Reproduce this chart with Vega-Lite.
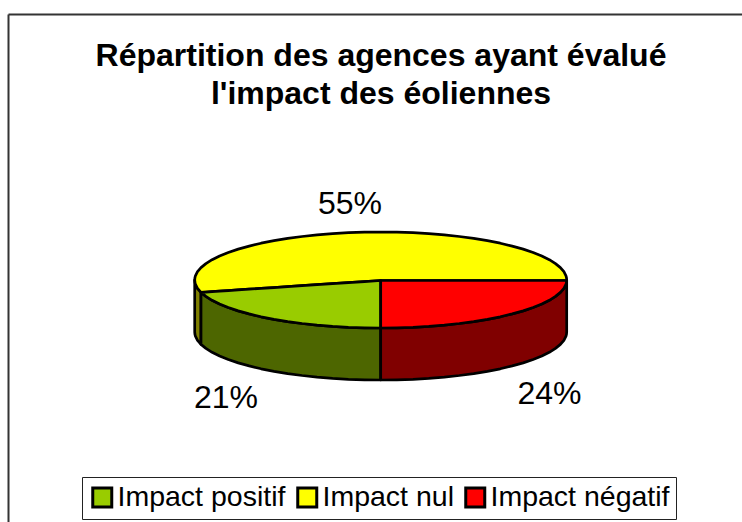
{"$schema":"https://vega.github.io/schema/vega-lite/v6.json","width":742,"height":522,"padding":0,"autosize":{"type":"none"},"background":"white","config":{"view":{"stroke":null},"font":"Liberation Sans"},
"title":{"text":["Répartition des agences ayant évalué","l'impact des éoliennes"],"fontSize":32,"fontWeight":"bold","font":"Liberation Sans","color":"black","anchor":"middle","frame":"group","orient":"top","offset":-136,"dx":10,"baseline":"alphabetic","lineHeight":38},
"datasets":{
"frame":[{"x":8.5,"x2":742,"y":14.5,"y2":14.5},{"x":8.5,"x2":8.5,"y":14.5,"y2":522}],
"side":[
{"s":"nul","x":194.7,"y":280,"y2":332},{"s":"nul","x":194.9,"y":282.1,"y2":334.1},{"s":"nul","x":195.4,"y":284.2,"y2":336.2},{"s":"nul","x":197.5,"y":288.3,"y2":340.3},{"s":"nul","x":201,"y":292.4,"y2":344.4},
{"s":"positif","x":201,"y":292.4,"y2":344.4},{"s":"positif","x":205.9,"y":296.4,"y2":348.4},{"s":"positif","x":212.1,"y":300.3,"y2":352.3},{"s":"positif","x":219.6,"y":304,"y2":356},{"s":"positif","x":228.3,"y":307.5,"y2":359.5},{"s":"positif","x":238.2,"y":310.9,"y2":362.9},{"s":"positif","x":249.2,"y":313.9,"y2":365.9},{"s":"positif","x":261.1,"y":316.8,"y2":368.8},{"s":"positif","x":274,"y":319.3,"y2":371.3},{"s":"positif","x":287.7,"y":321.6,"y2":373.6},{"s":"positif","x":302.1,"y":323.5,"y2":375.5},{"s":"positif","x":317.1,"y":325.1,"y2":377.1},{"s":"positif","x":332.6,"y":326.4,"y2":378.4},{"s":"positif","x":348.4,"y":327.3,"y2":379.3},{"s":"positif","x":364.5,"y":327.8,"y2":379.8},{"s":"positif","x":380.7,"y":328,"y2":380},
{"s":"negatif","x":380.7,"y":328,"y2":380},{"s":"negatif","x":396.9,"y":327.8,"y2":379.8},{"s":"negatif","x":413,"y":327.3,"y2":379.3},{"s":"negatif","x":428.8,"y":326.4,"y2":378.4},{"s":"negatif","x":444.3,"y":325.1,"y2":377.1},{"s":"negatif","x":459.3,"y":323.5,"y2":375.5},{"s":"negatif","x":473.7,"y":321.6,"y2":373.6},{"s":"negatif","x":487.4,"y":319.3,"y2":371.3},{"s":"negatif","x":500.3,"y":316.8,"y2":368.8},{"s":"negatif","x":512.2,"y":313.9,"y2":365.9},{"s":"negatif","x":523.2,"y":310.9,"y2":362.9},{"s":"negatif","x":533.1,"y":307.5,"y2":359.5},{"s":"negatif","x":541.8,"y":304,"y2":356},{"s":"negatif","x":549.3,"y":300.3,"y2":352.3},{"s":"negatif","x":555.5,"y":296.4,"y2":348.4},{"s":"negatif","x":560.4,"y":292.4,"y2":344.4},{"s":"negatif","x":563.9,"y":288.3,"y2":340.3},{"s":"negatif","x":566,"y":284.2,"y2":336.2},{"s":"negatif","x":566.5,"y":282.1,"y2":334.1},{"s":"negatif","x":566.7,"y":280,"y2":332}
],
"top":[
{"s":"Impact nul","x":194.7,"y":280,"y2":280},{"s":"Impact nul","x":194.9,"y":277.9,"y2":282.1},{"s":"Impact nul","x":195.4,"y":275.8,"y2":284.2},{"s":"Impact nul","x":197.5,"y":271.7,"y2":288.3},{"s":"Impact nul","x":201,"y":267.6,"y2":292.4},{"s":"Impact nul","x":205.9,"y":263.6,"y2":292.1},{"s":"Impact nul","x":212.1,"y":259.7,"y2":291.7},{"s":"Impact nul","x":219.6,"y":256,"y2":291.2},{"s":"Impact nul","x":228.3,"y":252.5,"y2":290.6},{"s":"Impact nul","x":238.2,"y":249.1,"y2":289.9},{"s":"Impact nul","x":249.2,"y":246.1,"y2":289.2},{"s":"Impact nul","x":261.1,"y":243.2,"y2":288.4},{"s":"Impact nul","x":274,"y":240.7,"y2":287.6},{"s":"Impact nul","x":287.7,"y":238.4,"y2":286.7},{"s":"Impact nul","x":302.1,"y":236.5,"y2":285.7},{"s":"Impact nul","x":317.1,"y":234.9,"y2":284.7},{"s":"Impact nul","x":332.6,"y":233.6,"y2":283.7},{"s":"Impact nul","x":348.4,"y":232.7,"y2":282.6},{"s":"Impact nul","x":364.5,"y":232.2,"y2":281.6},{"s":"Impact nul","x":380.7,"y":232,"y2":280.5},{"s":"Impact nul","x":396.9,"y":232.2,"y2":280.5},{"s":"Impact nul","x":413,"y":232.7,"y2":280.5},{"s":"Impact nul","x":428.8,"y":233.6,"y2":280.5},{"s":"Impact nul","x":444.3,"y":234.9,"y2":280.5},{"s":"Impact nul","x":459.3,"y":236.5,"y2":280.5},{"s":"Impact nul","x":473.7,"y":238.4,"y2":280.5},{"s":"Impact nul","x":487.4,"y":240.7,"y2":280.5},{"s":"Impact nul","x":500.3,"y":243.2,"y2":280.5},{"s":"Impact nul","x":512.2,"y":246.1,"y2":280.5},{"s":"Impact nul","x":523.2,"y":249.1,"y2":280.5},{"s":"Impact nul","x":533.1,"y":252.5,"y2":280.5},{"s":"Impact nul","x":541.8,"y":256,"y2":280.5},{"s":"Impact nul","x":549.3,"y":259.7,"y2":280.5},{"s":"Impact nul","x":555.5,"y":263.6,"y2":280.5},{"s":"Impact nul","x":560.4,"y":267.6,"y2":280.5},{"s":"Impact nul","x":563.9,"y":271.7,"y2":280.5},{"s":"Impact nul","x":566,"y":275.8,"y2":280.5},{"s":"Impact nul","x":566.5,"y":277.9,"y2":280.5},{"s":"Impact nul","x":566.7,"y":280,"y2":280.5},
{"s":"Impact positif","x":201,"y":292.4,"y2":292.4},{"s":"Impact positif","x":205.9,"y":292.1,"y2":296.4},{"s":"Impact positif","x":212.1,"y":291.7,"y2":300.3},{"s":"Impact positif","x":219.6,"y":291.2,"y2":304},{"s":"Impact positif","x":228.3,"y":290.6,"y2":307.5},{"s":"Impact positif","x":238.2,"y":289.9,"y2":310.9},{"s":"Impact positif","x":249.2,"y":289.2,"y2":313.9},{"s":"Impact positif","x":261.1,"y":288.4,"y2":316.8},{"s":"Impact positif","x":274,"y":287.6,"y2":319.3},{"s":"Impact positif","x":287.7,"y":286.7,"y2":321.6},{"s":"Impact positif","x":302.1,"y":285.7,"y2":323.5},{"s":"Impact positif","x":317.1,"y":284.7,"y2":325.1},{"s":"Impact positif","x":332.6,"y":283.7,"y2":326.4},{"s":"Impact positif","x":348.4,"y":282.6,"y2":327.3},{"s":"Impact positif","x":364.5,"y":281.6,"y2":327.8},{"s":"Impact positif","x":380.7,"y":280.5,"y2":328},
{"s":"Impact négatif","x":380.7,"y":280.5,"y2":328},{"s":"Impact négatif","x":396.9,"y":280.5,"y2":327.8},{"s":"Impact négatif","x":413,"y":280.5,"y2":327.3},{"s":"Impact négatif","x":428.8,"y":280.5,"y2":326.4},{"s":"Impact négatif","x":444.3,"y":280.5,"y2":325.1},{"s":"Impact négatif","x":459.3,"y":280.5,"y2":323.5},{"s":"Impact négatif","x":473.7,"y":280.5,"y2":321.6},{"s":"Impact négatif","x":487.4,"y":280.5,"y2":319.3},{"s":"Impact négatif","x":500.3,"y":280.5,"y2":316.8},{"s":"Impact négatif","x":512.2,"y":280.5,"y2":313.9},{"s":"Impact négatif","x":523.2,"y":280.5,"y2":310.9},{"s":"Impact négatif","x":533.1,"y":280.5,"y2":307.5},{"s":"Impact négatif","x":541.8,"y":280.5,"y2":304},{"s":"Impact négatif","x":549.3,"y":280.5,"y2":300.3},{"s":"Impact négatif","x":555.5,"y":280.5,"y2":296.4},{"s":"Impact négatif","x":560.4,"y":280.5,"y2":292.4},{"s":"Impact négatif","x":563.9,"y":280.5,"y2":288.3},{"s":"Impact négatif","x":566,"y":280.5,"y2":284.2},{"s":"Impact négatif","x":566.5,"y":280.5,"y2":282.1},{"s":"Impact négatif","x":566.7,"y":280.5,"y2":280.5}
],
"labels":[{"t":"55%","x":350,"y":214},{"t":"21%","x":226,"y":408},{"t":"24%","x":549.5,"y":404}]
},
"resolve":{"scale":{"color":"independent"}},
"layer":[
{"data":{"name":"frame"},"mark":{"type":"rule","color":"#333333","strokeWidth":2},"encoding":{"x":{"field":"x","type":"quantitative","scale":{"domain":[0,742],"nice":false,"zero":false},"axis":null},"x2":{"field":"x2"},"y":{"field":"y","type":"quantitative","scale":{"domain":[0,522],"reverse":true,"nice":false,"zero":false},"axis":null},"y2":{"field":"y2"}}},
{"data":{"name":"side"},"mark":{"type":"area","stroke":"black","strokeWidth":2.7,"strokeJoin":"round"},"encoding":{"x":{"field":"x","type":"quantitative","axis":null},"y":{"field":"y","type":"quantitative","axis":null},"y2":{"field":"y2"},"color":{"field":"s","type":"nominal","legend":null,"scale":{"domain":["positif","nul","negatif"],"range":["#4d6600","#808000","#800000"]}}}},
{"data":{"name":"top"},"mark":{"type":"area","stroke":"black","strokeWidth":2.7,"strokeJoin":"round"},"encoding":{"x":{"field":"x","type":"quantitative","axis":null},"y":{"field":"y","type":"quantitative","axis":null},"y2":{"field":"y2"},"color":{"field":"s","type":"nominal","scale":{"domain":["Impact positif","Impact nul","Impact négatif"],"range":["#99cc00","#ffff00","#ff0000"]},"legend":{"title":null,"orient":"none","legendX":82,"legendY":477,"direction":"horizontal","columns":3,"fillColor":"white","strokeColor":"#222222","padding":6,"labelFontSize":28.5,"labelFont":"Liberation Sans","labelColor":"black","symbolType":"square","symbolSize":361,"symbolStrokeColor":"black","symbolStrokeWidth":3,"symbolOpacity":1,"columnPadding":5,"labelOffset":1,"labelLimit":300}}}},
{"data":{"name":"labels"},"mark":{"type":"text","fontSize":32,"font":"Liberation Sans","align":"center","baseline":"alphabetic","color":"black"},"encoding":{"x":{"field":"x","type":"quantitative","axis":null},"y":{"field":"y","type":"quantitative","axis":null},"text":{"field":"t"}}}
]}
